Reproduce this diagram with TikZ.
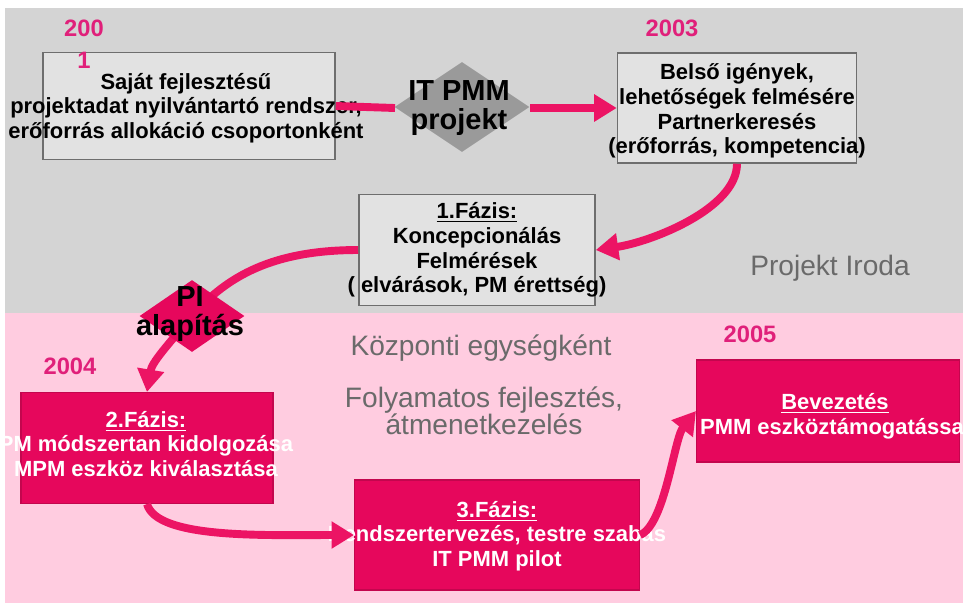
\documentclass[tikz,border=0pt]{standalone}
\usepackage{fontspec}
\setmainfont{Liberation Sans}
\usetikzlibrary{shapes.geometric, arrows.meta, positioning}
\definecolor{irodagray}{HTML}{D4D4D4}
\definecolor{kozpink}{HTML}{FFCCE0}
\definecolor{boxgray}{HTML}{E2E2E2}
\definecolor{boxline}{HTML}{6E6E6E}
\definecolor{fazismag}{HTML}{E6075C}
\definecolor{arrowpink}{HTML}{EC1464}
\definecolor{yearpink}{HTML}{E0207A}
\definecolor{labelgray}{HTML}{6A6A6A}
\definecolor{diagray}{HTML}{9A9A9A}

\begin{document}
\begin{tikzpicture}[
  x=0.02cm, y=-0.02cm,
  gbox/.style={draw=boxline, fill=boxgray, line width=0.9pt, inner sep=0pt},
  mbox/.style={draw=fazismag!85!black, fill=fazismag, line width=0.6pt, inner sep=0pt},
  btext/.style={font=\fontsize{12.5}{14}\selectfont\bfseries, align=center, inner sep=0pt},
  wtext/.style={btext, text=white},
  year/.style={font=\fontsize{13.5}{15.5}\selectfont\bfseries, text=yearpink, align=center, inner sep=0pt},
  area/.style={font=\fontsize{16}{15.5}\selectfont, text=labelgray, align=center, inner sep=0pt},
  dia/.style={diamond, inner sep=0pt},
  dtext/.style={font=\fontsize{16.5}{16.5}\selectfont\bfseries, align=center, inner sep=0pt},
  pline/.style={draw=arrowpink, line width=4.5pt},
  parrow/.style={pline, -{Triangle[length=0.45cm, width=0.52cm]}}
]
  \useasboundingbox (0,0) rectangle (963,603);
  \clip (0,0) rectangle (963,603);
  \fill[white] (0,0) rectangle (963,603);
  \fill[irodagray] (5,8) rectangle (963,313);
  \fill[kozpink] (5,313) rectangle (963,603);

  \node[area] (iroda) at (830,268) {Projekt Iroda};
  \node[area] (kozp) at (481,348) {Központi egységként};
  \node[area] (folyam) at (484,411) {Folyamatos fejlesztés,\\átmenetkezelés};

  \node[gbox, minimum width=5.84cm, minimum height=2.14cm] (own) at (189,106) {};
  \node[btext] (owntxt) at (186,108) {Saját fejlesztésű\\projektadat nyilvántartó rendszer,\\erőforrás allokáció csoportonként};

  \node[gbox, minimum width=4.78cm, minimum height=2.2cm] (needs) at (737,108) {};
  \node[btext] (needstxt) at (737,111) {Belső igények,\\lehetőségek felmésére\\Partnerkeresés\\(erőforrás, kompetencia)};

  \node[gbox, minimum width=4.72cm, minimum height=2.22cm] (phase1) at (477,250) {};
  \node[btext] (phase1txt) at (477,250) {\underline{1.Fázis:}\\Koncepcionálás\\Felmérések\\( elvárások, PM érettség)};

  \node[mbox, minimum width=5.04cm, minimum height=2.22cm] (phase2) at (147,448) {};
  \node[wtext] (phase2txt) at (146,444) {\underline{2.Fázis:}\\PM módszertan kidolgozása\\MPM eszköz kiválasztása};

  \node[mbox, minimum width=5.7cm, minimum height=2.2cm] (phase3) at (497,535) {};
  \node[wtext] (phase3txt) at (497,536) {\underline{3.Fázis:}\\Rendszertervezés, testre szabás\\IT PMM pilot};

  \node[mbox, minimum width=5.26cm, minimum height=2.04cm] (rollout) at (828,411) {};
  \node[wtext] (rollouttxt) at (835,416) {\underline{Bevezetés}\\PMM eszköztámogatással};

  \node[year] (y2001) at (84,44) {200\\[3pt]1};
  \node[year] (y2003) at (672,28) {2003};
  \node[year] (y2004) at (70,366) {2004};
  \node[year] (y2005) at (750,334) {2005};

  \draw[pline] (own.east) -- (395,108) coordinate (itin);
  \draw[parrow] (530,108) -- (needs.west);
  \draw[parrow] (needs.south) .. controls +(0,45) and +(55,-8) .. (phase1.east);
  \draw[pline] (phase1.west) .. controls +(-85,0) and +(35,-40) .. (192,316) coordinate (pimid);
  \draw[parrow] (pimid) .. controls +(-25,30) and +(5,-30) .. (phase2.north);
  \draw[parrow] (phase2.south) .. controls +(10,35) and +(-90,0) .. (phase3.west);
  \draw[parrow] (phase3.east) .. controls +(25,-10) and +(-22,28) .. (rollout.west);

  \node[dia, fill=diagray, minimum width=2.7cm, minimum height=1.8cm] (itpmm) at (462,107) {};
  \node[dtext] (itpmmtxt) at (459,108) {IT PMM\\projekt};
  \node[dia, fill=fazismag, minimum width=2.1cm, minimum height=1.44cm] (pi) at (192,316) {};
  \node[dtext] (pitxt) at (190,314) {PI\\alapítás};
\end{tikzpicture}
\end{document}
